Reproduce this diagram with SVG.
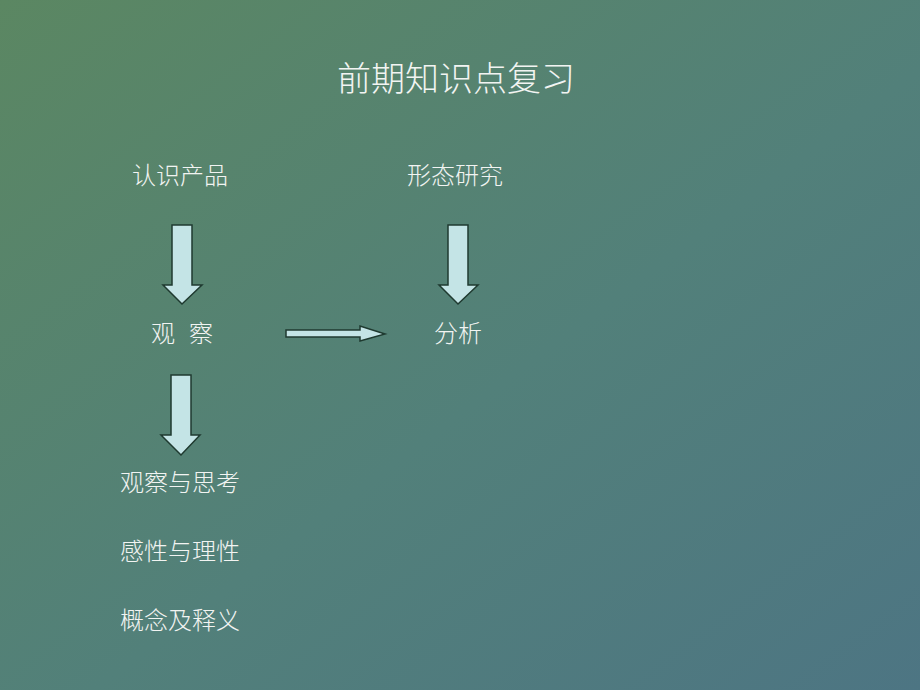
<svg xmlns="http://www.w3.org/2000/svg" width="920" height="690" viewBox="0 0 920 690">
<defs>
<linearGradient id="bg" x1="0" y1="0" x2="1" y2="1">
<stop offset="0" stop-color="#5b8762"/>
<stop offset="0.55" stop-color="#52807a"/>
<stop offset="1" stop-color="#4d7583"/>
</linearGradient>
<style>
text{font-family:"Noto Sans CJK SC",sans-serif;fill:#f2f4f2;font-size:24px;font-weight:300;text-anchor:middle}
.t{font-size:34px}
.a{fill:#c4e4e6;stroke:#1f3a30;stroke-width:1.5}
</style>
</defs>
<rect width="920" height="690" fill="url(#bg)"/>
<g id="title"><text class="t" x="456" y="91">前期知识点复习</text></g>
<g id="n1"><text x="180" y="184">认识产品</text></g>
<g id="n2"><text x="455" y="184">形态研究</text></g>
<g id="n3"><text x="163" y="342">观</text><text x="201" y="342">察</text></g>
<g id="n4"><text x="458" y="342">分析</text></g>
<g id="n5"><text x="180" y="491">观察与思考</text></g>
<g id="n6"><text x="180" y="560">感性与理性</text></g>
<g id="n7"><text x="180" y="629">概念及释义</text></g>
<g id="connectors">
<path class="a" d="M172,225H192V285H202L182,304L163,285H172Z"/>
<path class="a" d="M448,225H468V285H478L458,304L439,285H448Z"/>
<path class="a" d="M171,375H191V435H200L181,455L161,435H171Z"/>
<path class="a" d="M286,330H360V326L385,334L360,341V337H286Z"/>
</g>
</svg>
